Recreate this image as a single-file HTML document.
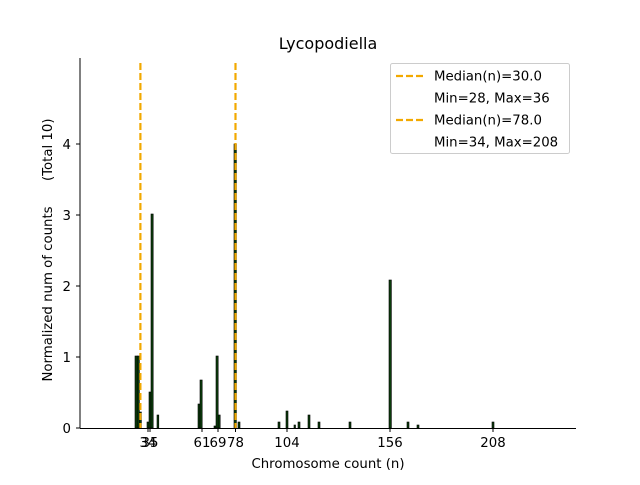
<!DOCTYPE html>
<html><head><meta charset="utf-8"><style>body{margin:0;background:#fff}</style></head><body>
<svg width="640" height="480" xmlns="http://www.w3.org/2000/svg" font-family="DejaVu Sans, Liberation Sans, sans-serif">
<rect width="640" height="480" fill="#fff"/>
<g fill="#0b3d0b" stroke="#000" stroke-width="0.6">
<rect x="135" y="356" width="2.2" height="72"/>
<rect x="137.2" y="356" width="2.2" height="72"/>
<rect x="139.4" y="412" width="2" height="16"/>
<rect x="147" y="422" width="2" height="6"/>
<rect x="149" y="392" width="2" height="36"/>
<rect x="151" y="214" width="2.2" height="214"/>
<rect x="157" y="415" width="1.8" height="13"/>
<rect x="198" y="404" width="2" height="24"/>
<rect x="200" y="380" width="2.2" height="48"/>
<rect x="214" y="426" width="2" height="2"/>
<rect x="216" y="356" width="2.2" height="72"/>
<rect x="218.2" y="415" width="2" height="13"/>
<rect x="234" y="144" width="2.4" height="284"/>
<rect x="238" y="422" width="2" height="6"/>
<rect x="278" y="422" width="2" height="6"/>
<rect x="286" y="411" width="2" height="17"/>
<rect x="294" y="425" width="1.5" height="3"/>
<rect x="298" y="422" width="2" height="6"/>
<rect x="308" y="415" width="2" height="13"/>
<rect x="318" y="422" width="2" height="6"/>
<rect x="349" y="422" width="2" height="6"/>
<rect x="389" y="280" width="2.4" height="148"/>
<rect x="407" y="422" width="2" height="6"/>
<rect x="417" y="425" width="2" height="3"/>
<rect x="492" y="422" width="2" height="6"/>
</g>
<g stroke="#f2a900" stroke-width="2.2" stroke-dasharray="7,3">
<line x1="140.4" y1="63" x2="140.4" y2="428"/>
<line x1="235.5" y1="63" x2="235.5" y2="428"/>
</g>
<g stroke="#000" stroke-width="1" fill="none">
<line x1="80" y1="428.5" x2="576" y2="428.5"/>
<line x1="80" y1="58" x2="80" y2="428.5"/>
<line x1="76" y1="428" x2="80" y2="428"/><line x1="76" y1="357" x2="80" y2="357"/>
<line x1="76" y1="286" x2="80" y2="286"/><line x1="76" y1="215" x2="80" y2="215"/>
<line x1="76" y1="144" x2="80" y2="144"/>
<line x1="148" y1="428" x2="148" y2="432"/><line x1="150" y1="428" x2="150" y2="432"/>
<line x1="202" y1="428" x2="202" y2="432"/><line x1="218" y1="428" x2="218" y2="432"/>
<line x1="235.5" y1="428" x2="235.5" y2="432"/><line x1="287" y1="428" x2="287" y2="432"/>
<line x1="390" y1="428" x2="390" y2="432"/><line x1="493" y1="428" x2="493" y2="432"/>
</g>
<g font-size="13.3" fill="#000">
<g text-anchor="end"><text x="71" y="433">0</text><text x="71" y="362">1</text><text x="71" y="291">2</text><text x="71" y="220">3</text><text x="71" y="149">4</text></g>
<g text-anchor="middle"><text x="148" y="447">34</text><text x="150" y="447">35</text><text x="202" y="447">61</text><text x="218" y="447">69</text><text x="235.5" y="447">78</text><text x="287" y="447">104</text><text x="390" y="447">156</text><text x="493" y="447">208</text>
<text x="328" y="468">Chromosome count (n)</text>
<text x="328" y="49" font-size="16">Lycopodiella</text></g>
<text transform="translate(52,250) rotate(-90)" text-anchor="middle" style="white-space:pre" xml:space="preserve">Normalized num of counts      (Total 10)</text>
</g>
<rect x="390.5" y="63.5" width="179" height="90" fill="#fff" stroke="#ccc" rx="2"/>
<g stroke="#f2a900" stroke-width="2.2" stroke-dasharray="7,3"><line x1="396" y1="76" x2="424" y2="76"/><line x1="396" y1="120" x2="424" y2="120"/></g>
<g font-size="13.3" fill="#000"><text x="434" y="80.5">Median(n)=30.0</text><text x="434" y="102.5">Min=28, Max=36</text><text x="434" y="124.5">Median(n)=78.0</text><text x="434" y="146.5">Min=34, Max=208</text></g>
</svg>
</body></html>
